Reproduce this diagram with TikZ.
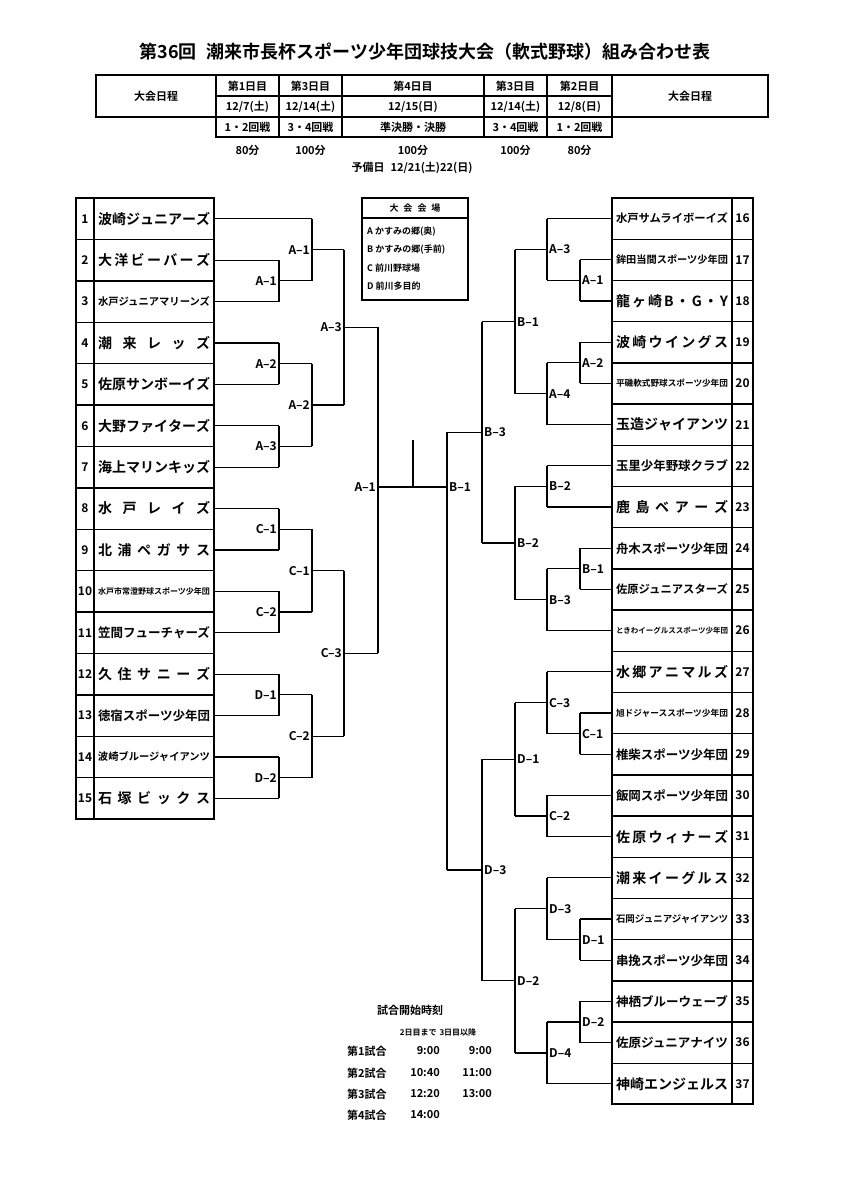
\documentclass[tikz,border=0pt]{standalone}
\usepackage{fontspec}
\setmainfont{Noto Sans CJK JP}[BoldFont={* Bold}]
\usepackage{graphicx}
\newcommand\nm[1]{{\spaceskip=0pt plus 1fil\makebox[112pt][s]{#1}}}
\newcommand\lnm[1]{\resizebox{112pt}{!}{#1}}
\tikzset{
  lab/.style={inner sep=1pt,font=\fontsize{12}{12}\selectfont\bfseries},
  team/.style={inner sep=0pt,font=\fontsize{14}{14}\selectfont\bfseries},
  num/.style={inner sep=0pt,font=\fontsize{12}{12}\selectfont\bfseries},
  hd/.style={inner sep=0pt,font=\fontsize{11}{11}\selectfont\bfseries},
  sm/.style={inner sep=0pt,font=\fontsize{9}{9}\selectfont\bfseries},
  br/.style={line width=1.2pt},
  tb/.style={line width=1.4pt}
}
\newcommand\mL[5]{%
  \draw[br] (#1,#2)--(#1,#3);
  \draw[br] (#1,{(#2+#3)/2})--(#4,{(#2+#3)/2});
  \node[lab,anchor=east] at ({#1-1},{(#2+#3)/2}) {#5};}
\newcommand\mR[5]{%
  \draw[br] (#1,#2)--(#1,#3);
  \draw[br] (#1,{(#2+#3)/2})--(#4,{(#2+#3)/2});
  \node[lab,anchor=west] at ({#1+1},{(#2+#3)/2}) {#5};}
\begin{document}
\begin{tikzpicture}[x=1pt,y=-1pt]
\useasboundingbox[fill=white] (0,0) rectangle (850,1200);
% title
\node[inner sep=0pt,font=\fontsize{18}{18}\selectfont\bfseries] (title) at (425,52) {第36回\hspace{10pt}潮来市長杯スポーツ少年団球技大会（軟式野球）組み合わせ表};
% schedule table
\draw[tb] (96,75) rectangle (768,117);
\draw[tb] (216,75) -- (216,137) -- (612,137) -- (612,75);
\foreach \x in {279,342,484,547} \draw[tb] (\x,75) -- (\x,137);
\draw[tb] (216,96) -- (612,96);
\node[hd] (l1) at (156,96) {大会日程};
\node[hd] (l2) at (690,96) {大会日程};
\foreach \c/\a/\b/\d/\m in {247.5/第1日目/{12/7(土)}/1・2回戦/80分,310.5/第3日目/{12/14(土)}/3・4回戦/100分,413/第4日目/{12/15(日)}/準決勝・決勝/100分,515.5/第3日目/{12/14(土)}/3・4回戦/100分,579.5/第2日目/{12/8(日)}/1・2回戦/80分}{
  \node[hd] at (\c,86) {\a};
  \node[hd] at (\c,107) {\b};
  \node[hd] at (\c,127) {\d};
  \node[hd] at (\c,150) {\m};
}
\node[hd] (yobi) at (412,168) {予備日\hspace{6pt}12/21(土)22(日)};
% venue box
\draw[line width=1.1pt] (362,198) rectangle (468,300);
\draw[line width=1.1pt] (362,218) -- (468,218);
\node[sm] (vh) at (415,208) {大\hspace{5pt}会\hspace{5pt}会\hspace{5pt}場};
\node[sm,anchor=west] (va) at (367,232) {A かすみの郷(奥)};
\node[sm,anchor=west] (vb) at (367,250) {B かすみの郷(手前)};
\node[sm,anchor=west] (vc) at (367,268) {C 前川野球場};
\node[sm,anchor=west] (vd) at (367,286) {D 前川多目的};
% left table
\draw[tb] (76,198) rectangle (214,819);
\draw[tb] (94,198) -- (94,819);
\foreach \k in {1,...,14} \draw[tb] (76,{198+41.4*\k}) -- (214,{198+41.4*\k});
\foreach \i/\n in {
 1/{\nm{波 崎 ジ ュ ニ ア ー ズ}},
 2/{\nm{大 洋 ビ ー バ ー ズ}},
 3/{\lnm{水戸ジュニアマリーンズ}},
 4/{\nm{潮 来 レ ッ ズ}},
 5/{\nm{佐 原 サ ン ボ ー イ ズ}},
 6/{\nm{大 野 フ ァ イ タ ー ズ}},
 7/{\nm{海 上 マ リ ン キ ッ ズ}},
 8/{\nm{水 戸 レ イ ズ}},
 9/{\nm{北 浦 ペ ガ サ ス}},
 10/{\lnm{水戸市常澄野球スポーツ少年団}},
 11/{\lnm{笠間フューチャーズ}},
 12/{\nm{久 住 サ ニ ー ズ}},
 13/{\lnm{徳宿スポーツ少年団}},
 14/{\lnm{波崎ブルージャイアンツ}},
 15/{\nm{石 塚 ビ ッ ク ス}}}{
  \node[num] (n\i) at (85,{198+41.4*(\i-0.5)}) {\i};
  \node[team] (t\i) at (154,{198+41.4*(\i-0.5)}) {\n};
}
% right table
\draw[tb] (612,198) rectangle (753,1104);
\draw[tb] (732,198) -- (732,1104);
\foreach \k in {1,...,21} \draw[tb] (612,{198+41.2*\k}) -- (753,{198+41.2*\k});
\foreach \i/\n in {
 16/{\lnm{水戸サムライボーイズ}},
 17/{\lnm{鉾田当間スポーツ少年団}},
 18/{\nm{龍 ヶ 崎 B ・ G ・ Y}},
 19/{\nm{波 崎 ウ イ ン グ ス}},
 20/{\lnm{平磯軟式野球スポーツ少年団}},
 21/{\nm{玉 造 ジ ャ イ ア ン ツ}},
 22/{\lnm{玉里少年野球クラブ}},
 23/{\nm{鹿 島 ベ ア ー ズ}},
 24/{\lnm{舟木スポーツ少年団}},
 25/{\lnm{佐原ジュニアスターズ}},
 26/{\lnm{ときわイーグルススポーツ少年団}},
 27/{\nm{水 郷 ア ニ マ ル ズ}},
 28/{\lnm{旭ドジャーススポーツ少年団}},
 29/{\lnm{椎柴スポーツ少年団}},
 30/{\lnm{飯岡スポーツ少年団}},
 31/{\nm{佐 原 ウ ィ ナ ー ズ}},
 32/{\nm{潮 来 イ ー グ ル ス}},
 33/{\lnm{石岡ジュニアジャイアンツ}},
 34/{\lnm{串挽スポーツ少年団}},
 35/{\lnm{神栖ブルーウェーブ}},
 36/{\lnm{佐原ジュニアナイツ}},
 37/{\nm{神 崎 エ ン ジ ェ ル ス}}}{
  \node[num] (n\i) at (742.5,{198+41.2*(\i-15.5)}) {\i};
  \node[team] (t\i) at (672,{198+41.2*(\i-15.5)}) {\n};
}
% left team lines
\foreach \i/\x in {1/312,2/279,3/279,4/279,5/279,6/279,7/279,8/279,9/279,10/279,11/279,12/279,13/279,14/279,15/279}
  \draw[br] (214,{198+41.4*(\i-0.5)}) -- (\x,{198+41.4*(\i-0.5)});
% right team lines
\foreach \i/\x in {16/547,17/580,18/580,19/580,20/580,21/547,22/547,23/547,24/580,25/580,26/547,27/547,28/580,29/580,30/547,31/547,32/547,33/580,34/580,35/580,36/580,37/547}
  \draw[br] (612,{198+41.2*(\i-15.5)}) -- (\x,{198+41.2*(\i-15.5)});
% left matches
\mL{279}{260.1}{301.5}{312}{A–1}
\mL{312}{218.7}{280.8}{344}{A–1}
\mL{279}{342.9}{384.3}{312}{A–2}
\mL{279}{425.7}{467.1}{312}{A–3}
\mL{312}{363.6}{446.4}{344}{A–2}
\mL{344}{249.75}{405}{378}{A–3}
\mL{279}{508.5}{549.9}{312}{C–1}
\mL{279}{591.3}{632.7}{312}{C–2}
\mL{312}{529.2}{612}{344}{C–1}
\mL{279}{674.1}{715.5}{312}{D–1}
\mL{279}{756.9}{798.3}{312}{D–2}
\mL{312}{694.8}{777.6}{344}{C–2}
\mL{344}{570.6}{736.2}{378}{C–3}
% right matches
\mR{580}{259.8}{301}{547}{A–1}
\mR{547}{218.6}{280.4}{515}{A–3}
\mR{580}{342.2}{383.4}{547}{A–2}
\mR{547}{362.8}{424.6}{515}{A–4}
\mR{515}{249.5}{393.7}{482}{B–1}
\mR{547}{465.8}{507}{515}{B–2}
\mR{580}{548.2}{589.4}{547}{B–1}
\mR{547}{568.8}{630.6}{515}{B–3}
\mR{515}{486.4}{599.7}{482}{B–2}
\mR{482}{321.6}{543.05}{447}{B–3}
\mR{580}{713}{754.2}{547}{C–1}
\mR{547}{671.8}{733.6}{515}{C–3}
\mR{547}{795.4}{836.6}{515}{C–2}
\mR{515}{702.7}{816}{482}{D–1}
\mR{580}{919}{960.2}{547}{D–1}
\mR{547}{877.8}{939.6}{515}{D–3}
\mR{580}{1001.4}{1042.6}{547}{D–2}
\mR{547}{1022}{1083.8}{515}{D–4}
\mR{515}{908.7}{1052.9}{482}{D–2}
\mR{482}{759.35}{980.8}{447}{D–3}
% final
\draw[br] (378,327.4) -- (378,653.4);
\draw[br] (447,432.3) -- (447,870.1);
\coordinate (fl) at (378,487);
\coordinate (fr) at (447,487);
\coordinate (tk) at (413,440);
\draw[br] (fl) -- (fr);
\draw[br] (tk) -- (413,487);
\node[lab,anchor=east] (fa) at (377,487) {A–1};
\node[lab,anchor=west] (fb) at (448,487) {B–1};
% start times
\node[hd] (st) at (410,1010) {試合開始時刻};
\node[inner sep=0pt,font=\fontsize{8}{8}\selectfont\bfseries] (st2) at (438,1032) {2日目まで\hspace{3pt}3日目以降};
\foreach \y/\g/\a/\b in {1051/第1試合/9:00/9:00,1073/第2試合/10:40/11:00,1094/第3試合/12:20/13:00,1115/第4試合/14:00/}{
  \node[hd,anchor=west] at (347,\y) {\g};
  \node[hd,anchor=east] at (440,\y) {\a};
  \node[hd,anchor=east] at (492,\y) {\b};
}
\end{tikzpicture}
\end{document}
